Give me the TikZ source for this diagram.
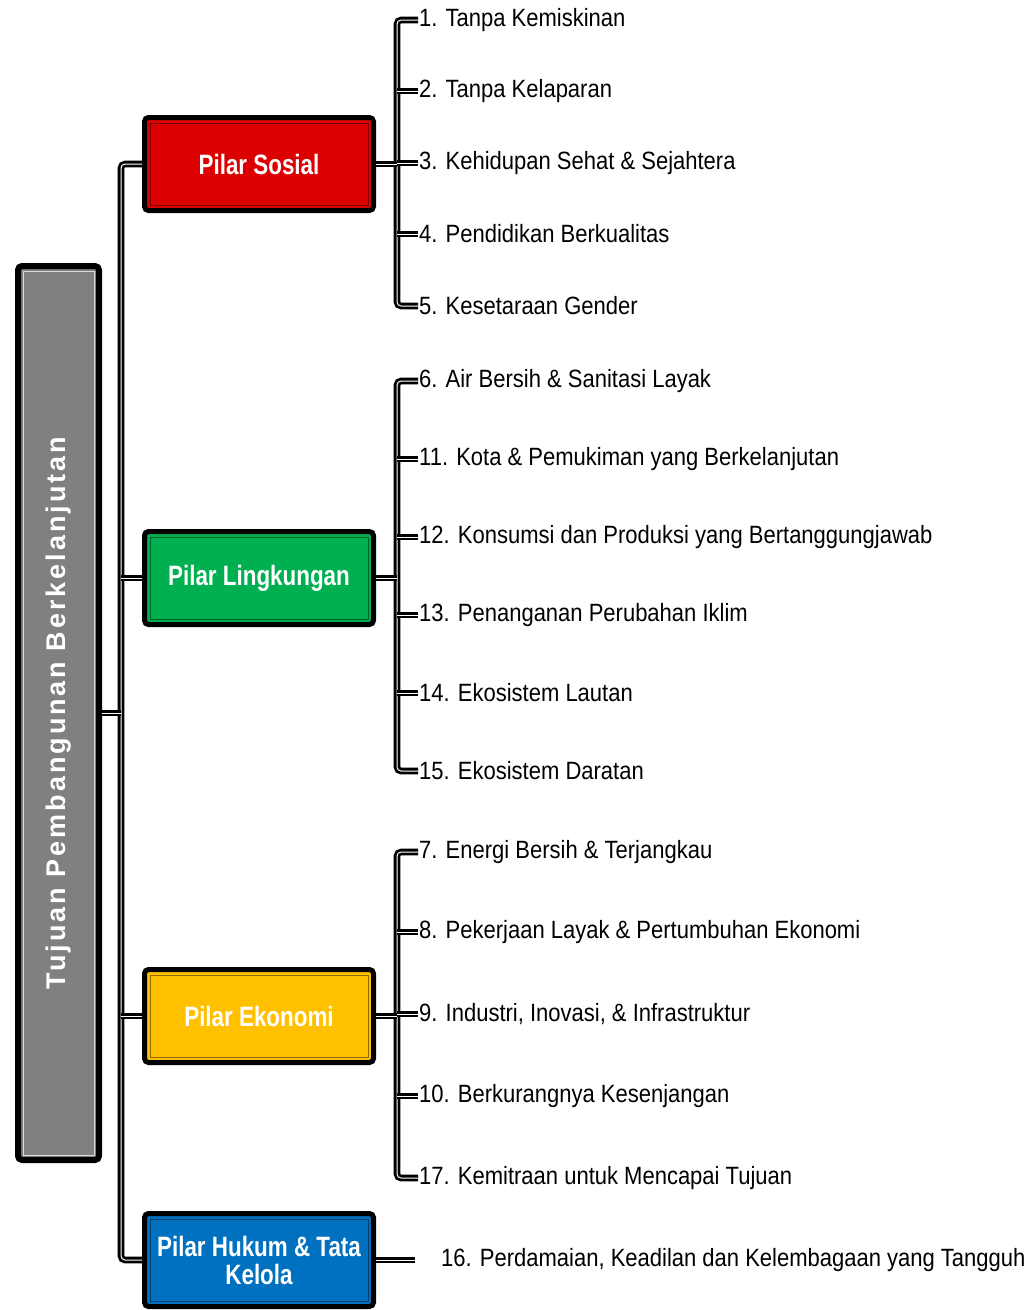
\documentclass[tikz,border=0pt]{standalone}
\usepackage{fontspec}
\setmainfont{Liberation Sans}
\newfontfamily\goalfont[FakeStretch=0.88]{Liberation Sans}
\newfontfamily\pilarfont[FakeStretch=0.8]{Liberation Sans}
\newfontfamily\titlefont[LetterSpace=11]{Liberation Sans}
\definecolor{sosialRed}{HTML}{DD0000}
\definecolor{lingkGreen}{HTML}{00B050}
\definecolor{ekonYellow}{HTML}{FFC000}
\definecolor{hukumBlue}{HTML}{0070C0}
\definecolor{tpbGray}{HTML}{808080}
\tikzset{
  conn/.style={draw=black, line width=2.8pt, double=white, double distance=1pt},
  pilar/.style={draw=black, line width=5pt, rounded corners=4pt, fill=#1,
    minimum width=229pt, minimum height=93pt, inner sep=0pt, align=center,
    text=white, font=\pilarfont\bfseries\fontsize{28}{28}\selectfont},
  goal/.style={anchor=west, inner sep=1pt, font=\goalfont\fontsize{25}{30}\selectfont},
}

\begin{document}
\begin{tikzpicture}[x=1pt, y=-1pt]
		\useasboundingbox (0,0) rectangle (1035,1310);
		%%%%%%%%%%%%%
		\node[pilar=tpbGray, line width=6pt, minimum width=81pt, minimum height=894pt] (tpb) at (58.5, 713) {};
		\node[rotate=90, text=white, font=\titlefont\bfseries\fontsize{27}{27}\selectfont] (tpbtext) at (tpb.center) {Tujuan Pembangunan Berkelanjutan};
		\node[pilar=sosialRed] (ps) at (259, 164) {Pilar Sosial};
		\node[pilar=lingkGreen] (pl) at (259, 578) {Pilar Lingkungan};
		\node[pilar=ekonYellow] (pe) at (259, 1016) {Pilar Ekonomi};
		\node[pilar=hukumBlue] (ph) at (259, 1260) {Pilar Hukum \& Tata\\Kelola};
		\foreach \n/\c in {tpb/white!85!black, ps/sosialRed!55!black, pl/lingkGreen!55!black, pe/ekonYellow!55!black, ph/hukumBlue!55!black}
			\draw[line width=0.8pt, \c] ([shift={(8,8)}]\n.north west) rectangle ([shift={(-8,-8)}]\n.south east);
		%%%%%%%%%%%%%
		\coordinate (trunk) at (121, 0);
		\coordinate (spine) at (397, 0);
		%%%%%%%%%%%%%
		\node[goal] (g1) at (418, 20) {1. Tanpa Kemiskinan};
		\node[goal] (g2) at (418, 91) {2. Tanpa Kelaparan};
		\node[goal] (g3) at (418, 163) {3. Kehidupan Sehat \& Sejahtera};
		\node[goal] (g4) at (418, 234) {4. Pendidikan Berkualitas};
		\node[goal] (g5) at (418, 306) {5. Kesetaraan Gender};
		%%%%%%%%%%%%%
		\node[goal] (g6) at (418, 381) {6. Air Bersih \& Sanitasi Layak};
		\node[goal] (g11) at (418, 459) {11. Kota \& Pemukiman yang Berkelanjutan};
		\node[goal] (g12) at (418, 537) {12. Konsumsi dan Produksi yang Bertanggungjawab};
		\node[goal] (g13) at (418, 615) {13. Penanganan Perubahan Iklim};
		\node[goal] (g14) at (418, 693) {14. Ekosistem Lautan};
		\node[goal] (g15) at (418, 771) {15. Ekosistem Daratan};
		%%%%%%%%%%%%%
		\node[goal] (g7) at (418, 852) {7. Energi Bersih \& Terjangkau};
		\node[goal] (g8) at (418, 932) {8. Pekerjaan Layak \& Pertumbuhan Ekonomi};
		\node[goal] (g9) at (418, 1014) {9. Industri, Inovasi, \& Infrastruktur};
		\node[goal] (g10) at (418, 1096) {10. Berkurangnya Kesenjangan};
		\node[goal] (g17) at (418, 1178) {17. Kemitraan untuk Mencapai Tujuan};
		%%%%%%%%%%%%%
		\node[goal] (g16) at (440, 1260) {16. Perdamaian, Keadilan dan Kelembagaan yang Tangguh};
		%%%%%%%%%%%%%%%%%%%%%%
		\draw[conn, rounded corners=4pt] (ps.west) -- (ps.west -| trunk) -- (ph.west -| trunk) -- (ph.west);
		\draw[conn] (tpb.east) -- (tpb.east -| trunk);
		\draw[conn] (pl.west) -- (pl.west -| trunk); \draw[conn] (pe.west) -- (pe.west -| trunk);
		%%%%%%%%%%%%%%%%%%%%%%
		\draw[conn, rounded corners=4pt] (g1.west) -- (g1.west -| spine) -- (g5.west -| spine) -- (g5.west);
		\draw[conn] (ps.east) -- (ps.east -| spine);
		\draw[conn] (g2.west -| spine) -- (g2.west); \draw[conn] (g3.west -| spine) -- (g3.west);
		\draw[conn] (g4.west -| spine) -- (g4.west);
		%%%%%%%%%%%%%%%%%%%%%%
		\draw[conn, rounded corners=4pt] (g6.west) -- (g6.west -| spine) -- (g15.west -| spine) -- (g15.west);
		\draw[conn] (pl.east) -- (pl.east -| spine);
		\draw[conn] (g11.west -| spine) -- (g11.west); \draw[conn] (g12.west -| spine) -- (g12.west);
		\draw[conn] (g13.west -| spine) -- (g13.west); \draw[conn] (g14.west -| spine) -- (g14.west);
		%%%%%%%%%%%%%%%%%%%%%%
		\draw[conn, rounded corners=4pt] (g7.west) -- (g7.west -| spine) -- (g17.west -| spine) -- (g17.west);
		\draw[conn] (pe.east) -- (pe.east -| spine);
		\draw[conn] (g8.west -| spine) -- (g8.west); \draw[conn] (g9.west -| spine) -- (g9.west);
		\draw[conn] (g10.west -| spine) -- (g10.west);
		%%%%%%%%%%%%%%%%%%%%%%
		\draw[conn] (ph.east) -- ([xshift=-25pt]g16.west);
\end{tikzpicture}
\end{document}
